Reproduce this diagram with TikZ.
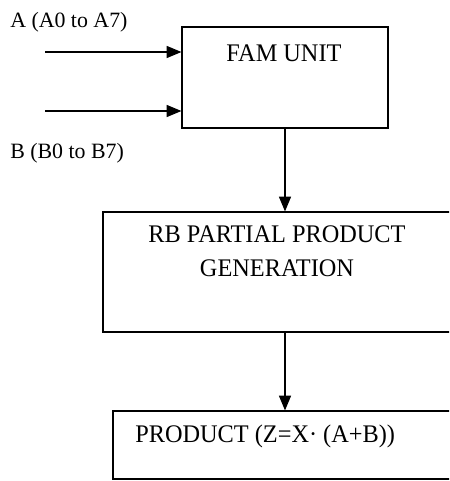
\documentclass[tikz,border=0pt]{standalone}
\usepackage{fontspec}
\setmainfont{Liberation Serif}
\newfontfamily\boxfont[FakeStretch = 0.96]{Liberation Serif}
\usetikzlibrary{arrows.meta}

\begin{document}
\begin{tikzpicture}[x = 0.75pt, y = -0.75pt]
	\tikzstyle{boxStyle} = [shape = rectangle, draw, line width = 0.9pt, inner sep = 0pt]
	\tikzstyle{boxText} = [inner sep = 0pt, font = \boxfont\fontsize{19}{25.5}\selectfont, align = center]
	\tikzstyle{inputText} = [inner sep = 0pt, anchor = base west, font = \fontsize{16.4}{20}\selectfont]
	\tikzstyle{arrowStyle} = [line width = 0.8pt, -{Triangle[length = 11pt, width = 9pt]}]
	\useasboundingbox (0, 0) rectangle (449, 481);
	\clip (0, 0) rectangle (449, 481);
	% boxes
	\node[boxStyle, minimum width = 154.5pt, minimum height = 75.75pt] (fam) at (285, 77.5) {};
	\node[boxStyle, minimum width = 261.75pt, minimum height = 90pt] (rb) at (277.5, 272) {};
	\node[boxStyle, minimum width = 267.75pt, minimum height = 51pt] (prod) at (291.5, 445) {};
	% texts
	\node[boxText, anchor = base] (famText) at (284, 62) {FAM UNIT};
	\node[boxText, anchor = north] (rbText) at (277, 225) {RB PARTIAL PRODUCT\\GENERATION};
	\node[boxText, anchor = base west] (prodText) at (135, 442) {PRODUCT (Z=X· (A+B))};
	\node[inputText] (aText) at (10, 28) {A (A0 to A7)};
	\node[inputText] (bText) at (10, 158) {B (B0 to B7)};
	% inputs
	\coordinate (aIn) at (45, 52);
	\coordinate (bIn) at (45, 111);
	\draw[arrowStyle] (aIn) -- (aIn -| fam.west);
	\draw[arrowStyle] (bIn) -- (bIn -| fam.west);
	\draw[arrowStyle] (fam.south) -- (fam.south |- rb.north);
	\draw[arrowStyle] (rb.south -| fam.south) -- (fam.south |- prod.north);
\end{tikzpicture}
\end{document}
